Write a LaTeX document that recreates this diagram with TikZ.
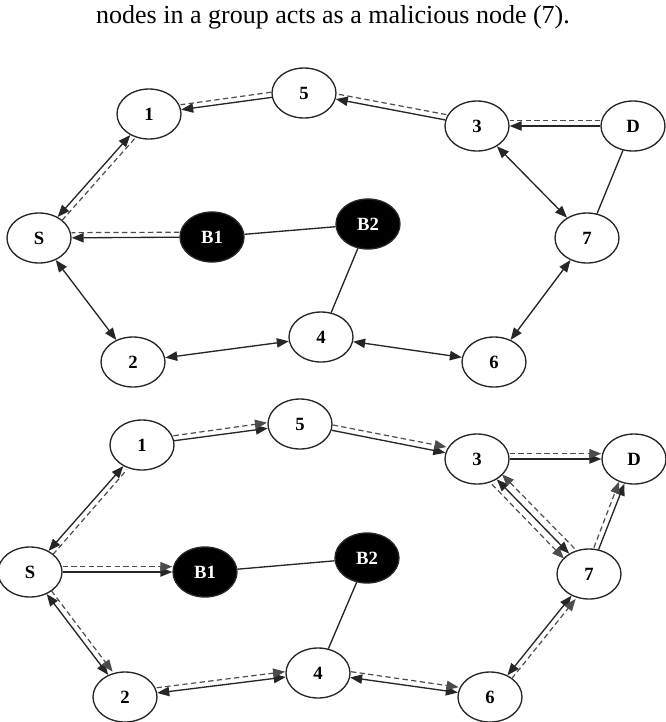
\documentclass[tikz,border=0pt]{standalone}
\usepackage{fontspec}
\setmainfont{Liberation Serif}
\usetikzlibrary{shapes.geometric,arrows.meta,calc}
\newcommand\dashpair[4][]{%
  \path let \p1=($(#3)-(#2)$), \n1={atan2(\y1,\x1)}, \n2={atan2(\y1,\x1)+180} in
    coordinate (dpA) at (#2.\n1) coordinate (dpB) at (#3.\n2);
  \draw[dsh,#1] ($(dpA)!#4!90:(dpB)$) -- ($(dpB)!#4!-90:(dpA)$);}
\begin{document}
\begin{tikzpicture}[x=0.75pt,y=-0.75pt,
 nd/.style={ellipse,draw=black!85,line width=1pt,fill=white,minimum width=48pt,minimum height=37.5pt,inner sep=0pt,font=\bfseries\fontsize{14}{14}\selectfont},
 bk/.style={nd,fill=black,text=white},
 ln/.style={draw=black!85,line width=1pt},
 tip/.tip={Triangle[length=9pt,width=7pt]},
 sar/.style={ln,-tip},
 dar/.style={ln,tip-tip},
 dsh/.style={draw=black!70,line width=0.9pt,dash pattern=on 4pt off 2.5pt},
 dsa/.style={-tip},
]
\useasboundingbox (0,0) rectangle (665,722);
\node[font=\fontsize{19.5}{22}\selectfont,anchor=base] (title) at (333,23) {nodes in a group acts as a malicious node (7).};

% ---------- upper graph ----------
\node[nd] (a1) at (149,114) {1};
\node[nd] (a5) at (304,93) {5};
\node[nd] (a3) at (477,126) {3};
\node[nd] (aD) at (633,126) {D};
\node[nd] (aS) at (39,238) {S};
\node[bk] (aB1) at (212,237) {B1};
\node[bk] (aB2) at (368,224) {B2};
\node[nd] (a7) at (587,238) {7};
\node[nd] (a2) at (133,362) {2};
\node[nd] (a4) at (321,337) {4};
\node[nd] (a6) at (494,362) {6};

\draw[sar] (a5) -- (a1);  \dashpair{a5}{a1}{-4pt}
\draw[dar] (a1) -- (aS);  \dashpair{a1}{aS}{4pt}
\draw[sar] (a3) -- (a5);  \dashpair{a3}{a5}{-4pt}
\draw[sar] (aD) -- (a3);  \dashpair{aD}{a3}{-4pt}
\draw[dar] (a3) -- (a7);
\draw[ln] (aD) -- (a7);
\draw[sar] (aB1) -- (aS); \dashpair{aB1}{aS}{-4pt}
\draw[ln] (aB1) -- (aB2);
\draw[ln] (aB2) -- (a4);
\draw[dar] (aS) -- (a2);
\draw[dar] (a2) -- (a4);
\draw[dar] (a4) -- (a6);
\draw[dar] (a7) -- (a6);

% ---------- lower graph ----------
\node[nd] (b1) at (142,445) {1};
\node[nd] (b5) at (300,424) {5};
\node[nd] (b3) at (477,459) {3};
\node[nd] (bD) at (634,459) {D};
\node[nd] (bS) at (30,572) {S};
\node[bk] (bB1) at (205,572) {B1};
\node[bk] (bB2) at (367,558) {B2};
\node[nd] (b7) at (589,574) {7};
\node[nd] (b2) at (125,697) {2};
\node[nd] (b4) at (318,673) {4};
\node[nd] (b6) at (490,697) {6};

\draw[dar] (bS) -- (b1);  \dashpair{bS}{b1}{-4pt}
\draw[sar] (b1) -- (b5);  \dashpair[dsa]{b1}{b5}{4pt}
\draw[sar] (b5) -- (b3);  \dashpair[dsa]{b5}{b3}{4pt}
\draw[sar] (b3) -- (bD);  \dashpair[dsa]{b3}{bD}{4pt}
\draw[dar] (b3) -- (b7);  \dashpair[dsa]{b7}{b3}{-5.5pt} \dashpair[dsa]{b3}{b7}{-5.5pt}
\draw[sar] (b7) -- (bD);  \dashpair[dsa]{b7}{bD}{4pt}
\draw[sar] (bS) -- (bB1); \dashpair[dsa]{bS}{bB1}{4pt}
\draw[ln] (bB1) -- (bB2);
\draw[ln] (bB2) -- (b4);
\draw[dar] (bS) -- (b2);  \dashpair[dsa]{bS}{b2}{4pt}
\draw[dar] (b2) -- (b4);  \dashpair[dsa]{b2}{b4}{4pt}
\draw[dar] (b4) -- (b6);  \dashpair[dsa]{b4}{b6}{4pt}
\draw[dar] (b6) -- (b7);  \dashpair[dsa]{b6}{b7}{-4pt}
\end{tikzpicture}
\end{document}
